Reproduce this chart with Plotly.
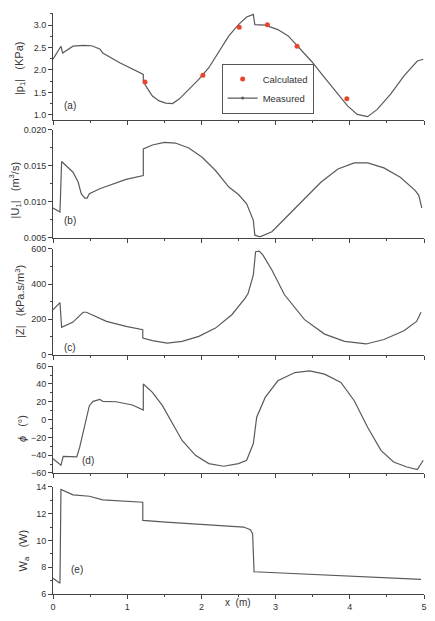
import plotly.graph_objects as go

# ---------------- data ----------------
# (a) |p1| (kPa)
xa = [0.0, 0.107, 0.13, 0.27, 0.405, 0.52, 0.63, 0.67, 0.9, 1.217, 1.217, 1.25, 1.34, 1.43, 1.52, 1.61, 1.70,
      1.83, 1.965, 2.10, 2.23, 2.37, 2.50, 2.61, 2.70, 2.72, 2.86, 3.03, 3.17, 3.30, 3.48, 3.66, 3.84, 3.97,
      4.10, 4.24, 4.37, 4.55, 4.73, 4.91, 4.99]
ya = [2.24, 2.53, 2.38, 2.53, 2.55, 2.54, 2.47, 2.38, 2.16, 1.90, 1.75, 1.644, 1.42, 1.31, 1.26, 1.25, 1.35,
      1.56, 1.79, 2.05, 2.38, 2.76, 3.01, 3.18, 3.24, 3.01, 3.00, 2.90, 2.76, 2.53, 2.20, 1.83, 1.46, 1.20,
      1.01, 0.96, 1.12, 1.46, 1.87, 2.20, 2.24]
xcalc = [1.24, 2.02, 2.51, 2.89, 3.29, 3.96]
ycalc = [1.73, 1.88, 2.95, 3.01, 2.53, 1.36]

# (b) |U1| (m^3/s)
xb = [0.0, 0.094, 0.116, 0.27, 0.34, 0.38, 0.43, 0.46, 0.49, 0.63, 0.985, 1.217, 1.217, 1.34, 1.50, 1.65,
      1.83, 2.01, 2.19, 2.37, 2.50, 2.61, 2.70, 2.72, 2.79, 2.95, 3.17, 3.39, 3.61, 3.84, 4.06, 4.24, 4.46,
      4.68, 4.88, 4.93, 4.97]
yb = [0.00912, 0.00856, 0.0156, 0.0141, 0.0127, 0.0111, 0.0105, 0.0105, 0.0111, 0.0118, 0.0131, 0.01365,
      0.01734, 0.0179, 0.01826, 0.01817, 0.01747, 0.01619, 0.01434, 0.01203, 0.0110, 0.0097, 0.0074,
      0.00533, 0.0051, 0.0058, 0.0081, 0.0104, 0.0127, 0.01456, 0.0154, 0.0154, 0.0147, 0.01341, 0.01157,
      0.01088, 0.00912]

# (c) |Z| (kPa.s/m^3)
xc = [0.0, 0.094, 0.116, 0.27, 0.405, 0.45, 0.72, 0.985, 1.21, 1.21, 1.34, 1.54, 1.74, 1.965, 2.19, 2.41,
      2.59, 2.63, 2.70, 2.73, 2.78, 2.83, 2.95, 3.12, 3.39, 3.66, 3.93, 4.22, 4.46, 4.73, 4.90, 4.96]
yc = [254, 295, 154, 184, 240, 240, 188, 160, 141, 94, 79, 65, 75, 103, 150, 226,
      320, 348, 452, 583, 587, 564, 480, 339, 198, 116, 75, 60, 85, 135, 188, 240]

# (d) phase (deg)
xd = [0.0, 0.107, 0.138, 0.27, 0.32, 0.36, 0.43, 0.49, 0.54, 0.63, 0.67, 0.85, 1.07, 1.217, 1.217, 1.34,
      1.475, 1.61, 1.74, 1.92, 2.10, 2.30, 2.50, 2.61, 2.70, 2.745, 2.86, 3.03, 3.26, 3.46, 3.66, 3.88, 4.06,
      4.24, 4.42, 4.59, 4.77, 4.91, 4.99]
yd = [-43.9, -51.4, -41.3, -41.3, -42.0, -31.0, -4.8, 15.6, 20.5, 22.7, 20.5, 20.0, 16.4, 10.8, 39.9, 30.5,
      15.6, -4.8, -23.5, -40.2, -49.5, -52.5, -49.5, -45.8, -27.0, 2.6, 24.9, 43.6, 52.8, 54.7, 51.0, 41.7, 21.2,
      -8.6, -34.6, -47.7, -53.3, -56.2, -45.8]

# (e) Wa (W)
xe = [0.0, 0.094, 0.107, 0.27, 0.49, 0.67, 1.21, 1.21, 1.52, 2.05, 2.57, 2.66, 2.69, 2.71, 3.15, 3.73, 4.40, 4.96]
ye = [7.17, 6.80, 13.8, 13.4, 13.3, 13.03, 12.85, 11.5, 11.37, 11.17, 11.0, 10.8, 10.5, 7.66, 7.54, 7.41, 7.24, 7.09]

panel_labels = ["(a)", "(b)", "(c)", "(d)", "(e)"]
ytitles = ["|p<sub>1</sub>|   (KPa)", "|U<sub>1</sub>|   (m<sup>3</sup>/s)", "|Z|   (kPa.s/m<sup>3</sup>)",
           "<i>ϕ</i>   (°)", "W<sub>a</sub>   (W)"]

# ---------------- figure ----------------
W, H = 435, 621
ML, MR, MT, MB = 53, 8, 10, 27
PH = H - MT - MB
PW = W - ML - MR

def py2paper(py):
    return (H - MB - py) / PH

def px2paper(px):
    return (px - ML) / PW

# panel pixel extents (top, bottom)
panels_px = [(10, 117.3), (127.5, 235.7), (247, 353.3), (365, 472.3), (486.3, 594)]
yranges = [[0.89, 3.27], [0.005, 0.020], [0, 600], [-60, 60], [6, 14]]
ydticks = [0.5, 0.005, 200, 20, 2]
yminor = [0.25, 0.0025, 100, 10, 1]
yfmt = [".1f", ".3f", "d", "d", "d"]

LC = "#5a5a5a"
AX = "#444444"
FONT = "Liberation Sans, Arial, sans-serif"

fig = go.Figure()
series = [(xa, ya), (xb, yb), (xc, yc), (xd, yd), (xe, ye)]
for i, (xs, ys) in enumerate(series):
    sfx = "" if i == 0 else str(i + 1)
    fig.add_trace(go.Scatter(
        x=xs, y=ys, mode="lines", line=dict(color=LC, width=1.2),
        xaxis="x" + sfx, yaxis="y" + sfx,
        name="Measured", showlegend=False))

fig.add_trace(go.Scatter(x=xcalc, y=ycalc, mode="markers", name="Calculated",
                         marker=dict(color="#e8452c", size=5), xaxis="x", yaxis="y"))
fig.add_trace(go.Scatter(x=[None], y=[None], mode="lines+markers", name="Measured",
                         line=dict(color=LC, width=1.2), marker=dict(color=LC, size=3),
                         xaxis="x", yaxis="y"))

layout = dict(
    width=W, height=H,
    margin=dict(l=ML, r=MR, t=MT, b=MB),
    paper_bgcolor="white", plot_bgcolor="white",
    font=dict(family=FONT, size=9, color="#333333"),
    showlegend=True,
    legend=dict(x=px2paper(223), y=py2paper(86), xanchor="left", yanchor="middle",
                bordercolor="#555555", borderwidth=1, bgcolor="white",
                font=dict(size=9.5, color="#333333"), itemwidth=30,
                tracegroupgap=0),
)

annotations = []
for i in range(5):
    sfx = "" if i == 0 else str(i + 1)
    top, bot = panels_px[i]
    layout["xaxis" + sfx] = dict(
        domain=[0, 1], range=[0, 5], anchor="y" + sfx,
        showline=True, linecolor=AX, linewidth=1, showgrid=False, zeroline=False,
        ticks="outside", ticklen=4, tickcolor=AX, dtick=1, tick0=0,
        minor=dict(ticks="outside", ticklen=2, dtick=0.5, tickcolor=AX),
        showticklabels=(i == 4), tickfont=dict(size=9),
        matches=None if i == 0 else "x",
    )
    layout["yaxis" + sfx] = dict(
        domain=[py2paper(bot), py2paper(top)], range=yranges[i], anchor="x" + sfx,
        showline=True, linecolor=AX, linewidth=1, showgrid=False, zeroline=False,
        ticks="outside", ticklen=4, tickcolor=AX, dtick=ydticks[i], tick0=0,
        tickformat=yfmt[i],
        minor=dict(ticks="outside", ticklen=2, dtick=yminor[i], tickcolor=AX),
        tickfont=dict(size=9),
    )

# y-axis titles (rotated annotations)
title_pos = [(19, 66), (15, 188), (19, 300), (22, 428), (24, 550)]
for i, (tx, ty) in enumerate(title_pos):
    annotations.append(dict(
        text=ytitles[i], xref="paper", yref="paper", x=px2paper(tx), y=py2paper(ty),
        xanchor="center", yanchor="middle", textangle=-90, showarrow=False,
        font=dict(size=11, color="#333333")))

# panel letters
label_pos = [(0.23, 1.21), (0.23, 0.0074), (0.23, 41), (0.47, -45.8), (0.32, 7.83)]
for i, (lx, ly) in enumerate(label_pos):
    sfx = "" if i == 0 else str(i + 1)
    annotations.append(dict(
        text=panel_labels[i], x=lx, y=ly, xref="x" + sfx, yref="y" + sfx,
        showarrow=False, font=dict(size=10, color="#333333")))

annotations.append(dict(text="x  (m)", xref="paper", yref="paper", x=px2paper(239), y=py2paper(610),
                        showarrow=False, font=dict(size=10, color="#333333")))

layout["annotations"] = annotations
fig.update_layout(**layout)
fig.write_html("out.html")
